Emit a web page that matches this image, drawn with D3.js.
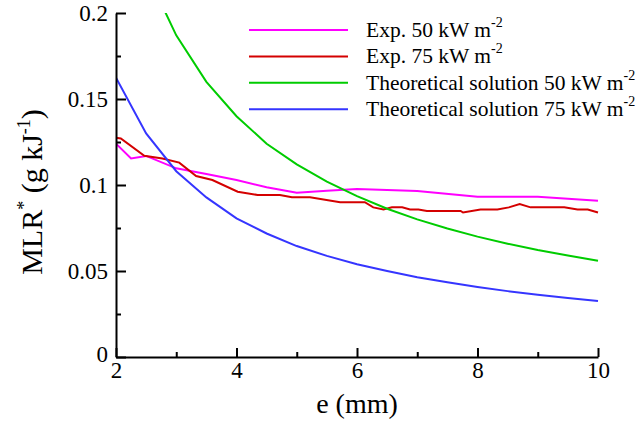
<!DOCTYPE html>
<html>
<head>
<meta charset="utf-8">
<title>MLR vs e</title>
<script src="https://d3js.org/d3.v7.min.js"></script>
<style>
  body { margin: 0; background: #fff; }
</style>
</head>
<body>
<div id="chart"></div>
<script>
// values
const exp50E = [2, 2.25, 2.5, 3, 3.5, 4, 4.5, 5, 5.5, 6, 7, 8, 9, 10];
const exp50V = [0.124, 0.1154, 0.1169, 0.1097, 0.1064, 0.1029, 0.0987, 0.0955, 0.0967, 0.0977, 0.0965, 0.0932, 0.0932, 0.0909];

const exp75E = [2, 2.08, 2.47, 2.77, 3.05, 3.33, 3.6, 4.02, 4.35, 4.72, 4.92, 5.22, 5.72, 6.13, 6.27, 6.44, 6.58, 6.75, 6.88, 7.02, 7.16, 7.72, 7.76, 8.05, 8.33, 8.52, 8.7, 8.88, 9.44, 9.66, 9.83, 10];
const exp75V = [0.1275, 0.127, 0.117, 0.1154, 0.113, 0.1052, 0.1029, 0.0961, 0.0942, 0.0942, 0.0929, 0.0929, 0.090, 0.090, 0.087, 0.0858, 0.087, 0.087, 0.0858, 0.0858, 0.0849, 0.0849, 0.084, 0.0858, 0.0858, 0.087, 0.0889, 0.087, 0.087, 0.0858, 0.0858, 0.084];

const th50E = [2.5, 3, 3.5, 4, 4.5, 5, 5.5, 6, 6.5, 7, 7.5, 8, 8.5, 9, 9.5, 10];
const th50V = [0.224, 0.187, 0.160, 0.140, 0.124, 0.112, 0.102, 0.0935, 0.0862, 0.080, 0.0747, 0.070, 0.0659, 0.0622, 0.059, 0.056];

const th75E = [2, 2.5, 3, 3.5, 4, 4.5, 5, 5.5, 6, 6.5, 7, 7.5, 8, 8.5, 9, 9.5, 10];
const th75V = [0.1624, 0.130, 0.108, 0.0928, 0.0806, 0.0718, 0.0645, 0.0588, 0.0539, 0.050, 0.0464, 0.0434, 0.0407, 0.0383, 0.0362, 0.0343, 0.0326];

const seriesNames = ['Exp. 50 kW m', 'Exp. 75 kW m', 'Theoretical solution 50 kW m', 'Theoretical solution 75 kW m'];
const seriesColors = ['#ff00ff', '#d40000', '#00cc00', '#3535ff'];

const xMajor = [2, 4, 6, 8, 10];
const xMinor = [3, 5, 7, 9];
const yMajor = [0, 0.05, 0.1, 0.15, 0.2];
const yMinor = [0.025, 0.075, 0.125, 0.175];

const serif = '"Liberation Serif"';

const width = 640, height = 430;
const margin = { left: 116, right: 42, top: 13, bottom: 73 };
const w = width - margin.left - margin.right;
const h = height - margin.top - margin.bottom;

const svg = d3.select('#chart').append('svg')
  .attr('width', width).attr('height', height);

const g = svg.append('g').attr('transform', `translate(${margin.left},${margin.top})`);

const x = d3.scaleLinear().domain([2, 10]).range([0, w]);
const y = d3.scaleLinear().domain([0, 0.2]).range([h, 0]);

g.append('clipPath').attr('id', 'clip')
  .append('rect').attr('width', w + 2).attr('height', h);

const series = [
  [exp50E, exp50V], [exp75E, exp75V], [th50E, th50V], [th75E, th75V]
];

const line = d3.line().x(d => x(d[0])).y(d => y(d[1]));

series.forEach(([es, vs], i) => {
  g.append('path')
    .datum(es.map((e, k) => [e, vs[k]]))
    .attr('clip-path', 'url(#clip)')
    .attr('fill', 'none')
    .attr('stroke', seriesColors[i])
    .attr('stroke-width', 2)
    .attr('d', line);
});

// axes
g.append('g').attr('transform', `translate(0,${h})`)
  .call(d3.axisBottom(x).tickValues(xMajor).tickSizeInner(-9).tickSizeOuter(0).tickPadding(5).tickFormat(d3.format('d')));
g.append('g').attr('transform', `translate(0,${h})`)
  .call(d3.axisBottom(x).tickValues(xMinor).tickSizeInner(-5).tickSizeOuter(0).tickFormat(''))
  .select('.domain').remove();

const yAxis = g.append('g')
  .call(d3.axisLeft(y).tickValues(yMajor).tickSizeInner(-10).tickSizeOuter(0).tickPadding(8).tickFormat(d => d === 0 ? '0' : String(+d.toFixed(2))));
g.append('g')
  .call(d3.axisLeft(y).tickValues(yMinor).tickSizeInner(-5).tickSizeOuter(0).tickFormat(''))
  .select('.domain').remove();

g.selectAll('.domain').attr('stroke', '#000').attr('stroke-width', 2);
g.selectAll('.tick line').attr('stroke', '#000').attr('stroke-width', 2);
g.selectAll('.tick text').attr('font-size', 23).style('font-family', serif).attr('fill', '#000');
yAxis.selectAll('.tick text').filter(d => d === 0).attr('dy', '0.2em');

// axis titles
svg.append('text')
  .attr('x', margin.left + w / 2).attr('y', 413)
  .attr('text-anchor', 'middle').attr('font-size', 28)
  .style('font-family', serif)
  .text('e (mm)');

const yt = svg.append('text')
  .attr('transform', `translate(42,192) rotate(-90)`)
  .attr('text-anchor', 'middle').attr('font-size', 30)
  .style('font-family', serif);
yt.append('tspan').text('MLR');
yt.append('tspan').attr('font-size', 18).attr('dy', -12).text('*');
yt.append('tspan').attr('dy', 12).text(' (g kJ');
yt.append('tspan').attr('font-size', 18).attr('dy', -12).text('-1');
yt.append('tspan').attr('dy', 12).text(')');

// legend
const legend = svg.append('g');
seriesNames.forEach((name, i) => {
  const ly = 30 + i * 26.4;
  legend.append('line')
    .attr('x1', 249).attr('x2', 348).attr('y1', ly).attr('y2', ly)
    .attr('stroke', seriesColors[i]).attr('stroke-width', 2);
  const t = legend.append('text')
    .attr('x', 366).attr('y', ly + 7).attr('font-size', 21.5)
    .style('font-family', serif);
  t.append('tspan').text(name);
  t.append('tspan').attr('font-size', 14).attr('dy', -10).text('-2');
});
</script>
</body>
</html>
